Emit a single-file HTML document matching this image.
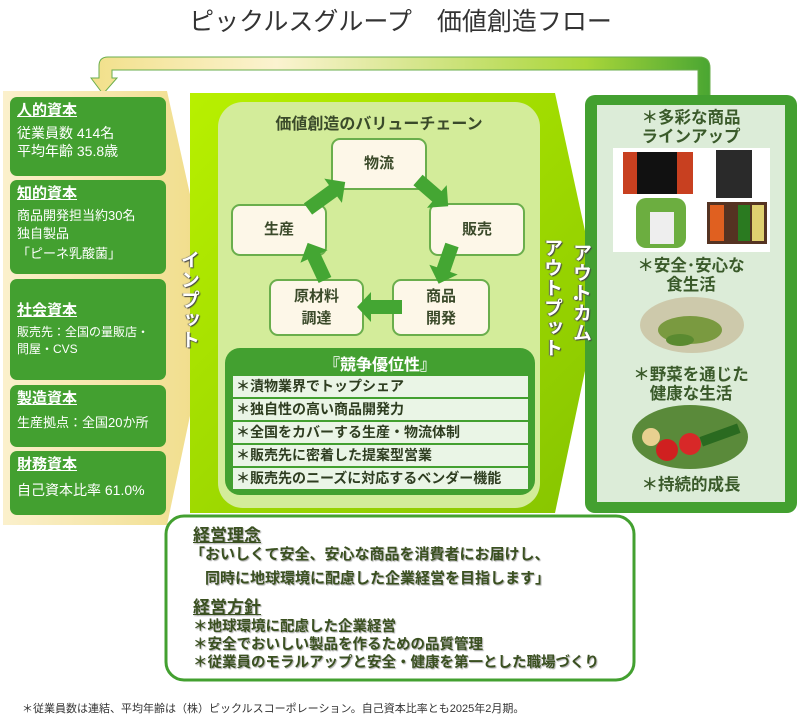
<!DOCTYPE html>
<html><head><meta charset="utf-8">
<style>
*{margin:0;padding:0;box-sizing:border-box}
body{width:801px;height:721px;background:#fff;position:relative;overflow:hidden;font-family:"Liberation Sans","Noto Sans CJK JP",sans-serif}
.a{position:absolute}
.card{position:absolute;left:10px;width:156px;background:#43a030;border-radius:7px;color:#fff;padding:4px 7px;font-size:13px;line-height:17px;white-space:nowrap}
.card b{display:inline-block;font-size:15px;text-decoration:underline;margin-bottom:3px;line-height:20px}
.node{position:absolute;background:#fdf7e8;border:2px solid #6aae4c;border-radius:9px;color:#3b4a2a;font-weight:bold;font-size:15px;display:flex;align-items:center;justify-content:center;text-align:center;line-height:22px}
.row{position:absolute;left:233px;width:295px;height:21px;background:#eaf5e6;color:#2e3d20;font-size:14px;font-weight:bold;line-height:21px;padding-left:3px;white-space:nowrap}
.vt{position:absolute;writing-mode:vertical-rl;color:#fff;font-weight:bold;font-size:19px;text-shadow:1px 1px 1px #444,-1px 0 1px #666;letter-spacing:1px}
.oc{position:absolute;left:595px;width:192px;text-align:center;color:#3a5a2a;font-weight:bold;font-size:16.5px;line-height:19px}
.bt{position:absolute;color:#3a5020;font-weight:bold;text-shadow:1px 1px 1px #aaa;white-space:nowrap}
</style></head><body>
<div class="a" style="left:0;top:2px;width:801px;text-align:center;font-size:25px;color:#333">ピックルスグループ　価値創造フロー</div>
<svg class="a" style="left:0;top:0" width="801" height="721">
<defs>
<linearGradient id="fb" x1="0" x2="1"><stop offset="0" stop-color="#f2e08a"/><stop offset="0.3" stop-color="#fbf3d0"/><stop offset="0.8" stop-color="#a9d63a"/><stop offset="1" stop-color="#4aa632"/></linearGradient>
<linearGradient id="inp" x1="0" x2="1"><stop offset="0" stop-color="#fbf0cc"/><stop offset="1" stop-color="#f0dc86"/></linearGradient>
<linearGradient id="mid" x1="0" x2="1" y1="0" y2="1"><stop offset="0" stop-color="#b8f000"/><stop offset="1" stop-color="#86c400"/></linearGradient>
</defs>
<path d="M103,94 L91,78 L99,78 L99,66 Q99,57 108,57 L699,57 Q710,57 710,68 L710,98 L698,98 L698,70 L112,70 L112,78 L117,78 Z" fill="url(#fb)" stroke="#6aae4c" stroke-width="1"/>
<path d="M3,91 L167,91 L214,302 L167,525 L3,525 Z" fill="url(#inp)"/>
<path d="M190,93 L555,93 L600,300 L555,513 L190,513 Z" fill="url(#mid)"/>
<rect x="218" y="102" width="322" height="406" rx="25" fill="#d3ec9a"/>
<rect x="585" y="95" width="212" height="418" rx="10" fill="#43a030"/>
<rect x="597" y="105" width="188" height="397" fill="#dcecd8"/>
<rect x="613" y="148" width="157" height="104" fill="#fff"/>
<rect x="623" y="152" width="70" height="42" fill="#c84020"/><rect x="637" y="152" width="40" height="42" fill="#111"/>
<rect x="716" y="150" width="36" height="48" fill="#2a2a2a"/>
<rect x="636" y="198" width="50" height="50" rx="10" fill="#6cae40"/><rect x="650" y="212" width="24" height="32" fill="#eee"/>
<rect x="707" y="202" width="60" height="42" fill="#553322"/><rect x="710" y="205" width="14" height="36" fill="#e06020"/><rect x="738" y="205" width="12" height="36" fill="#2a7a20"/><rect x="752" y="205" width="12" height="36" fill="#e0d070"/>
<ellipse cx="692" cy="325" rx="52" ry="28" fill="#c9c0a0" opacity="0.8"/><ellipse cx="690" cy="330" rx="32" ry="14" fill="#7a9a40"/><ellipse cx="680" cy="340" rx="14" ry="6" fill="#5a8a30"/>
<ellipse cx="690" cy="437" rx="58" ry="32" fill="#5a8a3a"/><circle cx="667" cy="450" r="11" fill="#d02020"/><circle cx="690" cy="444" r="11" fill="#d82828"/><circle cx="651" cy="437" r="9" fill="#e8d090"/><rect x="700" y="430" width="40" height="10" fill="#2a6a20" transform="rotate(-20 720 435)"/>
<rect x="225" y="348" width="310" height="147" rx="15" fill="#43a030"/>
<rect x="166" y="516" width="468" height="164" rx="18" fill="#fff" stroke="#43a030" stroke-width="3"/>
</svg>

<div class="card" style="top:97px;height:79px;font-size:14px;line-height:18px"><b>人的資本</b><br>従業員数 414名<br>平均年齢 35.8歳</div>
<div class="card" style="top:180px;height:94px"><b>知的資本</b><br>商品開発担当約30名<br><span style="line-height:20px">独自製品<br>「ピーネ乳酸菌」</span></div>
<div class="card" style="top:279px;height:101px;padding-top:22px;font-size:12px"><b>社会資本</b><br>販売先：全国の量販店・<br>問屋・CVS</div>
<div class="card" style="top:385px;height:62px"><b>製造資本</b><br><span style="line-height:22px">生産拠点：全国20か所</span></div>
<div class="card" style="top:451px;height:64px"><b>財務資本</b><br><span style="line-height:24px;font-size:14px">自己資本比率 61.0%</span></div>
<div class="vt" style="left:175px;top:250px">インプット</div>

<div class="a" style="left:218px;width:322px;top:110px;text-align:center;font-weight:bold;font-size:16px;color:#3a4a2a">価値創造のバリューチェーン</div>
<div class="node" style="left:331px;top:138px;width:96px;height:52px">物流</div>
<div class="node" style="left:429px;top:203px;width:96px;height:53px">販売</div>
<div class="node" style="left:231px;top:204px;width:96px;height:52px">生産</div>
<div class="node" style="left:269px;top:279px;width:95px;height:57px">原材料<br>調達</div>
<div class="node" style="left:392px;top:279px;width:98px;height:57px">商品<br>開発</div>
<svg class="a" style="left:0;top:0" width="801" height="721">
<g fill="#44a633">
<g transform="translate(308,209) rotate(-36)"><polygon points="0,-7 31,-7 31,-15 46,0 31,15 31,7 0,7"/></g>
<g transform="translate(418,180) rotate(41)"><polygon points="0,-7 25,-7 25,-15 40,0 25,15 25,7 0,7"/></g>
<g transform="translate(452,245) rotate(109)"><polygon points="0,-7 26,-7 26,-15 41,0 26,15 26,7 0,7"/></g>
<g transform="translate(402,307) rotate(180)"><polygon points="0,-7 31,-7 31,-15 45,0 31,15 31,7 0,7"/></g>
<g transform="translate(325,280) rotate(-115)"><polygon points="0,-7 26,-7 26,-15 41,0 26,15 26,7 0,7"/></g>
</g>
</svg>
<div class="a" style="left:225px;width:310px;top:351px;text-align:center;color:#fff;font-weight:bold;font-size:16px">『競争優位性』</div>
<div class="row" style="top:376px">＊漬物業界でトップシェア</div>
<div class="row" style="top:399px">＊独自性の高い商品開発力</div>
<div class="row" style="top:422px">＊全国をカバーする生産・物流体制</div>
<div class="row" style="top:445px">＊販売先に密着した提案型営業</div>
<div class="row" style="top:468px">＊販売先のニーズに対応するベンダー機能</div>
<div class="vt" style="left:538px;top:238px">アウトプット</div>
<div class="vt" style="left:561px;top:290px;font-size:16px">・</div>
<div class="vt" style="left:567px;top:243px">アウトカム</div>

<div class="oc" style="top:109px">＊多彩な商品<br>ラインアップ</div>
<div class="oc" style="top:257px">＊安全･安心な<br>食生活</div>
<div class="oc" style="top:366px">＊野菜を通じた<br>健康な生活</div>
<div class="oc" style="top:476px">＊持続的成長</div>

<div class="bt" style="left:193px;top:521px;font-size:17px;text-decoration:underline">経営理念</div>
<div class="bt" style="left:190px;top:543px;font-size:15px;line-height:24px">「おいしくて安全、安心な商品を消費者にお届けし、<br>　同時に地球環境に配慮した企業経営を目指します」</div>
<div class="bt" style="left:193px;top:593px;font-size:17px;text-decoration:underline">経営方針</div>
<div class="bt" style="left:193px;top:618px;font-size:14.5px;line-height:18px">＊地球環境に配慮した企業経営<br>＊安全でおいしい製品を作るための品質管理<br>＊従業員のモラルアップと安全・健康を第一とした職場づくり</div>
<div class="a" style="left:22px;top:700px;font-size:11px;color:#333">＊従業員数は連結、平均年齢は（株）ピックルスコーポレーション。自己資本比率とも2025年2月期。</div>
</body></html>
